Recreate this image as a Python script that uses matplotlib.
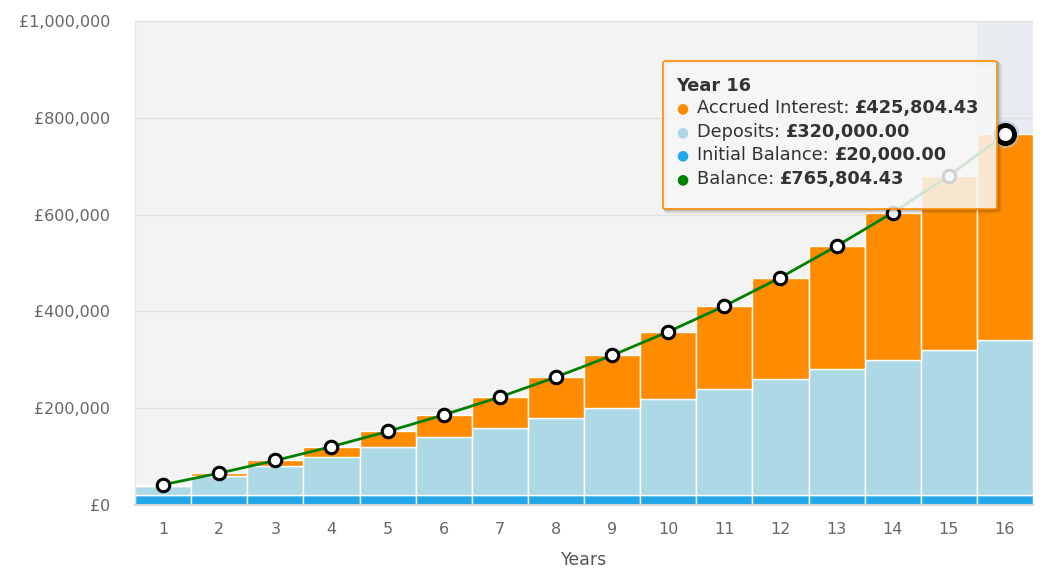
import numpy as np
import matplotlib
matplotlib.use('Agg')
import matplotlib.pyplot as plt
from matplotlib.patches import FancyBboxPatch
from matplotlib.ticker import FuncFormatter, MultipleLocator

# values
years = list(range(1, 17))
initial_balance = [20000] * 16
deposits = [20000, 40000, 60000, 80000, 100000, 120000, 140000, 160000,
            180000, 200000, 220000, 240000, 260000, 280000, 300000, 320000]
balance = [41900, 65800, 92000, 120600, 151900, 186200, 223000, 264300,
           309000, 358000, 411000, 470000, 535000, 604000, 680000, 765804.43]
interest = [b - i - d for b, i, d in zip(balance, initial_balance, deposits)]

tip_title = "Year 16"
tip_labels = ["Accrued Interest: ", "Deposits: ", "Initial Balance: ", "Balance: "]
tip_values = ["£425,804.43", "£320,000.00", "£20,000.00", "£765,804.43"]
tip_colors = ["#ff8c00", "#add8e6", "#22a7e9", "#008000"]

W, H = 1044, 571
fig = plt.figure(figsize=(W / 100, H / 100), dpi=100)
ax = fig.add_axes([135 / W, 1 - 505 / H, 898 / W, 484 / H])
ax.set_facecolor('#f3f3f3')

def fx(px):
    return px / W

def fy(py):
    return 1 - py / H

# hovered column band
ax.axvspan(15.5, 16.5, color='#e8ebef', zorder=0.5, lw=0)
ax.yaxis.grid(True, color='#e0e0e0', lw=1, zorder=0.8)
ax.set_axisbelow(True)

bottom2 = np.array(initial_balance)
bottom3 = bottom2 + np.array(deposits)
ax.bar(years, initial_balance, width=1, color='#22a7e9', edgecolor='white', lw=1, zorder=2)
ax.bar(years, deposits, width=1, bottom=bottom2, color='#add8e6', edgecolor='white', lw=1, zorder=2)
ax.bar(years, interest, width=1, bottom=bottom3, color='#ff8c00', edgecolor='white', lw=1, zorder=2)

ax.plot(years, balance, color='#008000', lw=2, zorder=4, marker='o',
        mfc='white', mec='black', ms=9, mew=2.2)

ax.set_xlim(0.5, 16.5)
ax.set_ylim(0, 1000000)
ax.yaxis.set_major_locator(MultipleLocator(200000))
ax.yaxis.set_major_formatter(FuncFormatter(lambda v, p: '£{:,.0f}'.format(v)))
ax.set_xticks(years)

for s in ['top', 'right']:
    ax.spines[s].set_visible(False)
ax.spines['left'].set_color('#e0e0e0')
ax.spines['bottom'].set_color('#d3d8de')
ax.spines['bottom'].set_linewidth(1.5)

ax.tick_params(axis='both', length=0, labelsize=11.5, colors='#666666')
ax.tick_params(axis='x', pad=12)
ax.tick_params(axis='y', pad=18)

fig.text(fx(584), fy(560), 'Years', ha='center', va='center', fontsize=12.5, color='#555555')

# tooltip
x0, y0, x1, y1 = 663, 61, 997, 209
for off, a, w in [(1, 0.15, 1.0), (2, 0.1, 2.0), (3, 0.05, 3.0)]:
    sh = FancyBboxPatch((fx(x0 + off), fy(y1 + off)), fx(x1 - x0), (y1 - y0) / H,
                        boxstyle='round,pad=0,rounding_size=0.003',
                        transform=fig.transFigure, facecolor='none', edgecolor='black',
                        lw=w, alpha=a, zorder=9)
    fig.add_artist(sh)
box = FancyBboxPatch((fx(x0), fy(y1)), fx(x1 - x0), (y1 - y0) / H,
                     boxstyle='round,pad=0,rounding_size=0.003',
                     transform=fig.transFigure, facecolor=(0.97, 0.97, 0.97, 0.85),
                     edgecolor='#ff8c00', lw=1.2, zorder=10)
fig.add_artist(box)

fig.text(fx(676), fy(86), tip_title, ha='left', va='center', fontsize=12.8,
         fontweight='bold', color='#333333', zorder=11)
renderer = fig.canvas.get_renderer()
row_y = [108, 132, 155, 179]
for lab, val, col, yy in zip(tip_labels, tip_values, tip_colors, row_y):
    fig.text(fx(682), fy(yy), '●', ha='center', va='center', fontsize=10, color=col, zorder=11)
    t = fig.text(fx(697), fy(yy), lab, ha='left', va='center', fontsize=12.8,
                 color='#333333', zorder=11)
    bb = t.get_window_extent(renderer)
    fig.text(bb.x1 / W, fy(yy), val, ha='left', va='center', fontsize=12.8,
             fontweight='bold', color='#333333', zorder=11)

# hovered marker on top of the tooltip
ax.plot(years[-1], balance[-1], 'o', ms=19, color='#a8c6de', alpha=0.45, zorder=20, clip_on=False)
ax.plot(years[-1], balance[-1], 'o', ms=13, mfc='white', mec='black', mew=3.5, zorder=21, clip_on=False)
ax.set_zorder(1)

fig.savefig('out.png', dpi=100)
